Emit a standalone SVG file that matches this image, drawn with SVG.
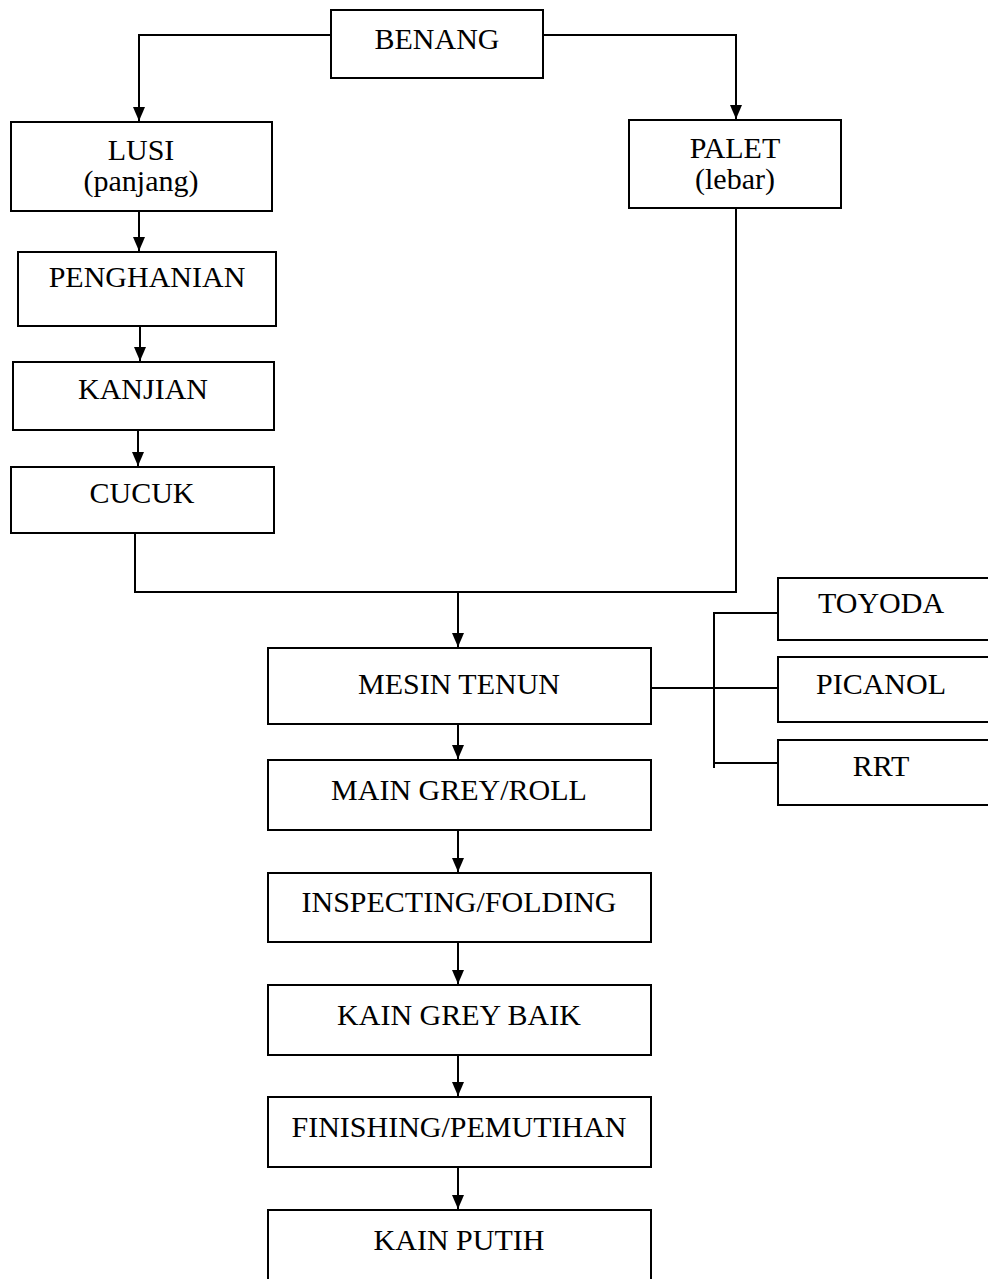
<svg xmlns="http://www.w3.org/2000/svg" width="988" height="1279" viewBox="0 0 988 1279">
  <style>
    .box { fill: #fff; stroke: #000; stroke-width: 2; }
    .lbl { font-family: "Liberation Serif", "Times New Roman", serif; font-size: 30px; fill: #000; text-anchor: middle; }
    .con { fill: none; stroke: #000; stroke-width: 2; }
  </style>
  <defs>
    <marker id="arrow" viewBox="0 0 14 12" refX="14" refY="6" markerWidth="14" markerHeight="12" markerUnits="userSpaceOnUse" orient="auto">
      <path d="M0,0 L14,6 L0,12 Z" fill="#000"/>
    </marker>
  </defs>
  <rect width="988" height="1279" fill="#fff"/>

  <!-- connectors -->
  <g id="connectors">
    <path class="con" d="M331,35 H139 V121" marker-end="url(#arrow)"/>
    <path class="con" d="M543,35 H736 V119" marker-end="url(#arrow)"/>
    <path class="con" d="M139,211 V251" marker-end="url(#arrow)"/>
    <path class="con" d="M140,326 V361" marker-end="url(#arrow)"/>
    <path class="con" d="M138,430 V466" marker-end="url(#arrow)"/>
    <path class="con" d="M135,533 V592 H736 V208"/>
    <path class="con" d="M458,592 V647" marker-end="url(#arrow)"/>
    <path class="con" d="M651,688 H778"/>
    <path class="con" d="M714,612 V768"/>
    <path class="con" d="M714,613 H778"/>
    <path class="con" d="M714,763 H778"/>
    <path class="con" d="M458,724 V759" marker-end="url(#arrow)"/>
    <path class="con" d="M458,830 V872" marker-end="url(#arrow)"/>
    <path class="con" d="M458,942 V984" marker-end="url(#arrow)"/>
    <path class="con" d="M458,1055 V1096" marker-end="url(#arrow)"/>
    <path class="con" d="M458,1167 V1209" marker-end="url(#arrow)"/>
  </g>

  <g id="benang"><rect class="box" x="331" y="10" width="212" height="68"/><text class="lbl" x="437" y="49">BENANG</text></g>
  <g id="lusi"><rect class="box" x="11" y="122" width="261" height="89"/><text class="lbl" x="141" y="160">LUSI</text><text class="lbl" x="141" y="191">(panjang)</text></g>
  <g id="palet"><rect class="box" x="629" y="120" width="212" height="88"/><text class="lbl" x="735" y="158">PALET</text><text class="lbl" x="735" y="189">(lebar)</text></g>
  <g id="penghanian"><rect class="box" x="18" y="252" width="258" height="74"/><text class="lbl" x="147" y="287">PENGHANIAN</text></g>
  <g id="kanjian"><rect class="box" x="13" y="362" width="261" height="68"/><text class="lbl" x="143" y="399">KANJIAN</text></g>
  <g id="cucuk"><rect class="box" x="11" y="467" width="263" height="66"/><text class="lbl" x="142" y="503">CUCUK</text></g>
  <g id="mesin-tenun"><rect class="box" x="268" y="648" width="383" height="76"/><text class="lbl" x="459" y="694">MESIN TENUN</text></g>
  <g id="toyoda"><rect class="box" x="778" y="578" width="220" height="62"/><text class="lbl" x="881" y="613">TOYODA</text></g>
  <g id="picanol"><rect class="box" x="778" y="657" width="220" height="65"/><text class="lbl" x="881" y="694">PICANOL</text></g>
  <g id="rrt"><rect class="box" x="778" y="740" width="220" height="65"/><text class="lbl" x="881" y="776">RRT</text></g>
  <g id="main-grey"><rect class="box" x="268" y="760" width="383" height="70"/><text class="lbl" x="459" y="800">MAIN GREY/ROLL</text></g>
  <g id="inspecting"><rect class="box" x="268" y="873" width="383" height="69"/><text class="lbl" x="459" y="912">INSPECTING/FOLDING</text></g>
  <g id="kain-grey-baik"><rect class="box" x="268" y="985" width="383" height="70"/><text class="lbl" x="459" y="1025">KAIN GREY BAIK</text></g>
  <g id="finishing"><rect class="box" x="268" y="1097" width="383" height="70"/><text class="lbl" x="459" y="1137">FINISHING/PEMUTIHAN</text></g>
  <g id="kain-putih"><rect class="box" x="268" y="1210" width="383" height="80"/><text class="lbl" x="459" y="1250">KAIN PUTIH</text></g>
</svg>
